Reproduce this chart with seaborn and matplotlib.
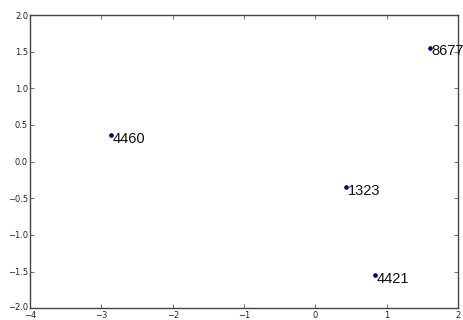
import matplotlib
matplotlib.use("Agg")
import matplotlib.pyplot as plt
import matplotlib.transforms as mtransforms
import seaborn as sns
import pandas as pd

# Sample coordinates and their identifiers
labels = ["8677", "4460", "1323", "4421"]
xs = [1.61, -2.86, 0.43, 0.84]
ys = [1.55, 0.36, -0.35, -1.55]

df = pd.DataFrame({"x": xs, "y": ys, "label": labels})

sns.set_style("white", {
    "xtick.direction": "in",
    "ytick.direction": "in",
    "axes.edgecolor": "#333333",
})
plt.rcParams["font.family"] = ["DejaVu Sans"]

fig = plt.figure(figsize=(4.64, 3.2), dpi=100)
ax = fig.add_axes([0.065, 0.037, 0.922, 0.916])

sns.scatterplot(data=df, x="x", y="y", ax=ax, s=8, color="#000080",
                edgecolor="#000050", linewidth=0.4, zorder=3)

for _, row in df.iterrows():
    ax.annotate(row["label"], (row["x"], row["y"]), xytext=(1, -2.5),
                textcoords="offset points", fontsize=10.5, va="center",
                ha="left", color="#111111", family=["Liberation Sans"])

ax.set_xlim(-4, 2)
ax.set_ylim(-2, 2)
ax.set_xticks([-4, -3, -2, -1, 0, 1, 2])
ax.set_xticklabels(["\u22124", "\u22123", "\u22122", "\u22121", "0", "1", "2"])
ax.set_yticks([-2.0, -1.5, -1.0, -0.5, 0.0, 0.5, 1.0, 1.5, 2.0])
ax.set_yticklabels(["\u22122.0", "\u22121.5", "\u22121.0", "\u22120.5", "0.0",
                    "0.5", "1.0", "1.5", "2.0"])
ax.tick_params(axis="both", which="both", direction="in", length=3,
               width=0.6, labelsize=6.0, color="#555555",
               top=True, right=True, bottom=True, left=True)
ax.tick_params(axis="x", pad=1.8)
ax.tick_params(axis="y", pad=1.5)

# lift the lowest y tick label a touch so it clears the first x tick label
lowest = ax.get_yticklabels()[0]
lowest.set_transform(lowest.get_transform() +
                     mtransforms.ScaledTranslation(0, 1.5 / 72, fig.dpi_scale_trans))

ax.set_xlabel("")
ax.set_ylabel("")
for sp in ax.spines.values():
    sp.set_linewidth(1.0)
    sp.set_color("#444444")

fig.savefig("out.png", dpi=100)
